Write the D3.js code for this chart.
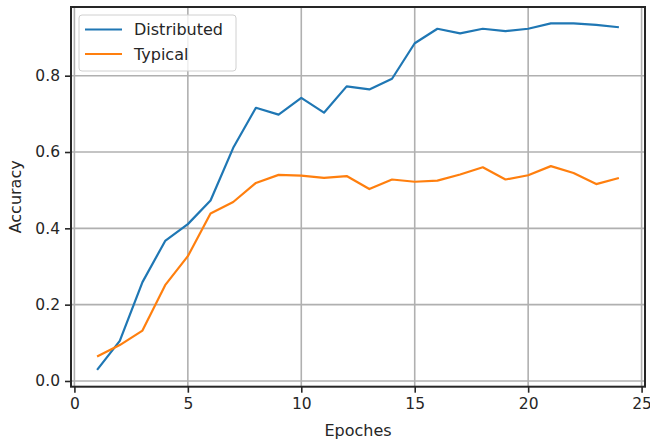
<!DOCTYPE html>
<html>
<head>
<meta charset="utf-8">
<script src="https://cdn.jsdelivr.net/npm/d3@7"></script>
<style>
  html, body { margin: 0; padding: 0; background: #fff; }
  svg { display: block; font-family: "DejaVu Sans", sans-serif; }
</style>
</head>
<body>
<svg id="chart" width="650" height="441"></svg>
<script>
// Accuracy per training epoch for the two training setups
const epochs = d3.range(1, 25);
const distributed = [0.029, 0.105, 0.259, 0.367, 0.411, 0.473, 0.611, 0.716, 0.698, 0.742,
                     0.703, 0.772, 0.764, 0.792, 0.885, 0.923, 0.911, 0.923, 0.917, 0.923,
                     0.937, 0.937, 0.933, 0.927];
const typical = [0.064, 0.094, 0.132, 0.251, 0.327, 0.439, 0.469, 0.519, 0.540, 0.538,
                 0.532, 0.537, 0.503, 0.528, 0.522, 0.525, 0.541, 0.560, 0.528, 0.539,
                 0.563, 0.545, 0.516, 0.532];
const seriesNames = ["Distributed", "Typical"];
const seriesColors = ["#1f77b4", "#ff7f0e"];
const xTicks = [0, 5, 10, 15, 20, 25];
const yTicks = [0.0, 0.2, 0.4, 0.6, 0.8];
const xLabel = "Epoches";
const yLabel = "Accuracy";

const svg = d3.select("#chart");
const plotLeft = 71, plotRight = 645, plotTop = 7, plotBottom = 386.7;
const ink = "#262626";

const x = d3.scaleLinear().domain([-0.15, 25.15]).range([plotLeft, plotRight]);
const y = d3.scaleLinear().domain([-0.015, 0.98]).range([plotBottom, plotTop]);

// grid
const grid = svg.append("g").attr("stroke", "#b0b0b0").attr("stroke-width", 1.6);
grid.selectAll("line.v").data(xTicks).join("line").attr("class", "v")
  .attr("x1", d => x(d)).attr("x2", d => x(d)).attr("y1", plotTop).attr("y2", plotBottom);
grid.selectAll("line.h").data(yTicks).join("line").attr("class", "h")
  .attr("y1", d => y(d)).attr("y2", d => y(d)).attr("x1", plotLeft).attr("x2", plotRight);

// series lines
const line = d3.line().x((d, i) => x(epochs[i])).y(d => y(d));
[distributed, typical].forEach((vals, k) => {
  svg.append("path").datum(vals)
    .attr("fill", "none")
    .attr("stroke", seriesColors[k])
    .attr("stroke-width", 2.2)
    .attr("stroke-linejoin", "round")
    .attr("stroke-linecap", "butt")
    .attr("d", line);
});

// axes
const xAxis = d3.axisBottom(x).tickValues(xTicks).tickFormat(d3.format("d"))
  .tickSize(6).tickPadding(5);
const yAxis = d3.axisLeft(y).tickValues(yTicks).tickFormat(d3.format(".1f"))
  .tickSize(6).tickPadding(5);

const gx = svg.append("g").attr("transform", `translate(0,${plotBottom})`).call(xAxis);
const gy = svg.append("g").attr("transform", `translate(${plotLeft},0)`).call(yAxis);
[gx, gy].forEach(g => {
  g.select(".domain").remove();
  g.selectAll(".tick line").attr("stroke", ink).attr("stroke-width", 1.6);
  g.selectAll(".tick text").attr("fill", ink)
    .style("font-size", "15.5px").style("font-family", "DejaVu Sans, sans-serif");
});

// frame
svg.append("rect")
  .attr("x", plotLeft).attr("y", plotTop)
  .attr("width", plotRight - plotLeft).attr("height", plotBottom - plotTop)
  .attr("fill", "none").attr("stroke", ink).attr("stroke-width", 2);

// axis titles
svg.append("text")
  .attr("x", (plotLeft + plotRight) / 2).attr("y", 435.5)
  .attr("text-anchor", "middle").attr("fill", ink)
  .style("font-size", "16px").text(xLabel);
svg.append("text")
  .attr("transform", `translate(21,${(plotTop + plotBottom) / 2}) rotate(-90)`)
  .attr("text-anchor", "middle").attr("fill", ink)
  .style("font-size", "16px").text(yLabel);

// legend
const lg = svg.append("g");
lg.append("rect")
  .attr("x", 79).attr("y", 15).attr("width", 157).attr("height", 56)
  .attr("rx", 3).attr("fill", "#fff").attr("fill-opacity", 0.8)
  .attr("stroke", "#d0d0d0").attr("stroke-width", 1);
seriesNames.forEach((name, k) => {
  const yy = 29.5 + k * 24.5;
  lg.append("line").attr("x1", 85).attr("x2", 122).attr("y1", yy).attr("y2", yy)
    .attr("stroke", seriesColors[k]).attr("stroke-width", 2.2);
  lg.append("text").attr("x", 134).attr("y", yy).attr("dy", "0.35em")
    .attr("fill", ink).style("font-size", "16px").text(name);
});
</script>
</body>
</html>
